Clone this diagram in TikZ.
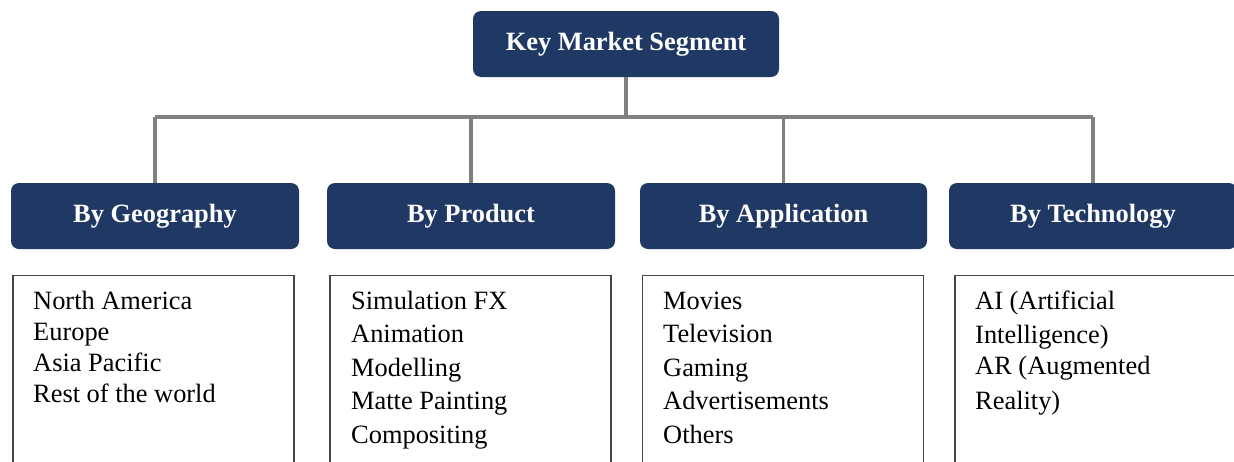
\documentclass[tikz,border=0pt]{standalone}
\usepackage{fontspec}
\setmainfont{Liberation Serif}
\definecolor{navy}{RGB}{31,56,100}
\definecolor{linegray}{RGB}{128,128,128}
\definecolor{boxborder}{RGB}{70,70,70}
\begin{document}
\begin{tikzpicture}[x=1pt,y=-1pt,
  head/.style={fill=navy, rounded corners=8pt, draw=none, text=white,
    font=\fontsize{26.4}{30}\selectfont\bfseries, minimum height=66pt, inner sep=0pt},
  listbox/.style={draw=boxborder, line width=1.4pt, fill=white, inner sep=0pt,
    minimum width=281pt, minimum height=220pt, anchor=north},
  item/.style={anchor=base west, inner sep=0pt, font=\fontsize{26.4}{30}\selectfont, text=black},
  conn/.style={draw=linegray, line width=3.8pt}]
\useasboundingbox (0,0) rectangle (1234,461);
\clip (0,0) rectangle (1234,461);
\fill[white] (0,0) rectangle (1234,461);

\node[head, minimum width=306pt] (top) at (626,44) {Key Market Segment};
\node[head, minimum width=288pt] (geo) at (155,216) {By Geography};
\node[head, minimum width=288pt] (prod) at (471,216) {By Product};
\node[head, minimum width=287pt] (app) at (783.5,216) {By Application};
\node[head, minimum width=288pt] (tech) at (1093,216) {By Technology};

\coordinate (bus) at (0,117);
\draw[conn] (top.south) -- (top.south |- bus);
\draw[conn] (geo.north |- bus) -- (tech.north |- bus);
\draw[conn] (geo.north |- bus) -- (geo.north);
\draw[conn] (prod.north |- bus) -- (prod.north);
\draw[conn] (app.north |- bus) -- (app.north);
\draw[conn] (tech.north |- bus) -- (tech.north);

\node[listbox] (geolist) at (153.5,275) {};
\node[listbox] (prodlist) at (470.5,275) {};
\node[listbox] (applist) at (783,275) {};
\node[listbox] (techlist) at (1095.5,275) {};

\foreach \t [count=\i] in {North America, Europe, Asia Pacific, Rest of the world}
  \node[item] (g\i) at (33,{309+31*(\i-1)}) {\t};
\foreach \t [count=\i] in {Simulation FX, Animation, Modelling, Matte Painting, Compositing}
  \node[item] (p\i) at (351,{309+33.5*(\i-1)}) {\t};
\foreach \t [count=\i] in {Movies, Television, Gaming, Advertisements, Others}
  \node[item] (a\i) at (663,{309+33.5*(\i-1)}) {\t};
\node[item] (t1) at (975,309) {AI (Artificial};
\node[item] (t2) at (975,343) {Intelligence)};
\node[item] (t3) at (975,374) {AR (Augmented};
\node[item] (t4) at (975,409) {Reality)};
\end{tikzpicture}
\end{document}
